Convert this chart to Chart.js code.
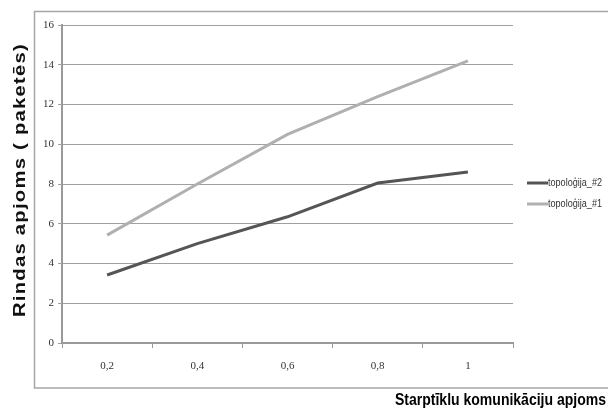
<!DOCTYPE html>
<html>
<head>
<meta charset="utf-8">
<script src="https://cdn.jsdelivr.net/npm/chart.js@4"></script>
<style>
html,body{margin:0;padding:0;background:#fff;}
#wrap{position:relative;width:608px;height:414px;}
</style>
</head>
<body>
<div id="wrap"><canvas id="grafico" width="608" height="414"></canvas></div>
<script>
/** datos del grafico */
var kategorijas = ["0,2", "0,4", "0,6", "0,8", "1"];
var topologija2 = [3.42, 5.0, 6.35, 8.05, 8.6];
var topologija1 = [5.43, 8.0, 10.5, 12.4, 14.2];
var yTicks = [0, 2, 4, 6, 8, 10, 12, 14, 16];

var virsrakstsY = "Rindas apjoms ( paketēs)";
var virsrakstsX = "Starptīklu komunikāciju apjoms";

/** rami, legenda un nosaukumi */
var zimejumi = {
    id: 'zimejumi',
    beforeDraw: function (chart) {
        var c = chart.ctx;
        c.save();
        c.strokeStyle = "#a6a6a6";
        c.lineWidth = 1.5;
        c.strokeRect(34.5, 11.5, 600, 376.5);
        c.restore();
    },
    afterDraw: function (chart) {
        var c = chart.ctx;
        c.save();
        // legenda
        var ds = chart.data.datasets;
        var yy = [183, 204];
        for (var i = 0; i < ds.length; i++) {
            c.strokeStyle = ds[i].borderColor;
            c.lineWidth = 3;
            c.beginPath();
            c.moveTo(527, yy[i]);
            c.lineTo(548, yy[i]);
            c.stroke();
            c.fillStyle = "#333";
            c.font = "11px 'Liberation Sans', sans-serif";
            c.textBaseline = "middle";
            c.textAlign = "left";
            c.fillText(ds[i].label, 548, yy[i], 54);
        }
        // X ass nosaukums
        c.fillStyle = "#000";
        c.font = "bold 16px 'Liberation Sans', sans-serif";
        c.textAlign = "right";
        c.textBaseline = "middle";
        c.fillText(virsrakstsX, 606, 401, 211);
        c.restore();

        // Y ass nosaukums
        c.save();
        c.font = "bold 16px 'Liberation Sans', Arial, sans-serif";
        c.letterSpacing = "1px";
        var w = c.measureText(virsrakstsY).width;
        c.translate(21, 180);
        c.rotate(-Math.PI / 2);
        c.scale(274 / w, 1);
        c.fillStyle = "#111";
        c.textAlign = "center";
        c.textBaseline = "middle";
        c.fillText(virsrakstsY, 0, 0);
        c.restore();
    }
};

const ctx = document.getElementById("grafico");
new Chart(ctx, {
    type: "line",
    data: {
        labels: kategorijas,
        datasets: [{
            label: "topoloģija_#2",
            data: topologija2,
            borderColor: "#555555",
            backgroundColor: "#555555",
            borderWidth: 3,
            pointRadius: 0,
            tension: 0
        }, {
            label: "topoloģija_#1",
            data: topologija1,
            borderColor: "#b0b0b0",
            backgroundColor: "#b0b0b0",
            borderWidth: 3,
            pointRadius: 0,
            tension: 0
        }]
    },
    plugins: [zimejumi],
    options: {
        responsive: false,
        animation: false,
        devicePixelRatio: 1,
        layout: { padding: { left: 0, top: 25, right: 95, bottom: 0 } },
        plugins: {
            legend: { display: false },
            tooltip: { enabled: false }
        },
        scales: {
            x: {
                offset: true,
                afterFit: function (s) { s.height = 71; },
                grid: {
                    offset: true,
                    drawOnChartArea: false,
                    drawTicks: true,
                    tickLength: 5,
                    color: "#999"
                },
                border: { color: "#999", width: 2 },
                ticks: {
                    color: "#333",
                    padding: 12,
                    maxRotation: 0,
                    font: { family: "'Liberation Serif', serif", size: 11 }
                }
            },
            y: {
                min: 0,
                max: 16,
                afterFit: function (s) { s.width = 62; },
                afterBuildTicks: function (s) {
                    s.ticks = yTicks.map(function (v) { return { value: v }; });
                },
                grid: {
                    color: "#a0a0a0",
                    lineWidth: 1,
                    tickLength: 4
                },
                border: { color: "#999", width: 2 },
                ticks: {
                    color: "#333",
                    padding: 4,
                    autoSkip: false,
                    font: { family: "'Liberation Serif', serif", size: 11 }
                }
            }
        }
    }
});
</script>
</body>
</html>
